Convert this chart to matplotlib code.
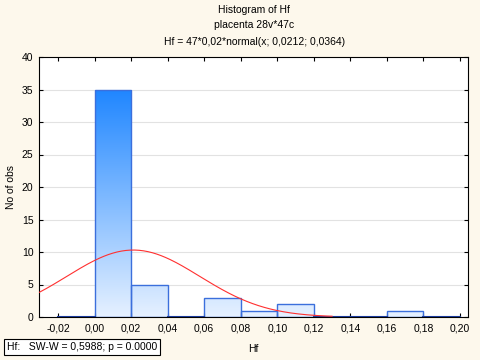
import numpy as np
import matplotlib
matplotlib.use('Agg')
import matplotlib.pyplot as plt
from matplotlib.colors import LinearSegmentedColormap

plt.rcParams['font.family'] = ['Liberation Sans', 'DejaVu Sans']
plt.rcParams['font.size'] = 7.5

# histogram bins (left edges) and counts
bin_left = [-0.02, 0.00, 0.02, 0.04, 0.06, 0.08, 0.10, 0.12, 0.14, 0.16, 0.18]
counts = [0, 35, 5, 0, 3, 1, 2, 0, 0, 1, 0]
bin_w = 0.02

# fitted normal from the title
n_obs = 47
mu = 0.0212
sd = 0.0364

xticks = [-0.02, 0.00, 0.02, 0.04, 0.06, 0.08, 0.10, 0.12, 0.14, 0.16, 0.18, 0.20]
yticks = [0, 5, 10, 15, 20, 25, 30, 35, 40]

fig = plt.figure(figsize=(4.8, 3.6), dpi=100, facecolor='#fdf8ec')
ax = fig.add_axes([39/480, 1-317/360, 429/480, 260/360])
ax.set_xlim(-0.0304, 0.2044)
ax.set_ylim(0, 40)

for y in yticks[1:-1]:
    ax.axhline(y, color='#e2e2e2', lw=0.8, zorder=0)

cmap = LinearSegmentedColormap.from_list('bar', ['#e6f1ff', '#1f86ff'])
grad = np.linspace(0, 1, 256).reshape(-1, 1)
top = max(counts)
for x0, c in zip(bin_left, counts):
    if c > 0:
        im = ax.imshow(grad, extent=[x0, x0 + bin_w, 0, top], origin='lower',
                       aspect='auto', cmap=cmap, zorder=1)
        rect = plt.Rectangle((x0, 0), bin_w, c, fill=False, ec='#3b6fdc', lw=1.0, zorder=2)
        ax.add_patch(rect)
        im.set_clip_path(rect)
    else:
        ax.plot([x0, x0 + bin_w], [0, 0], color='#1a3a9a', lw=1.5, zorder=3)
ax.set_ylim(0, 40)

xs = np.linspace(-0.0304, 0.13, 200)
ys = n_obs * bin_w * np.exp(-0.5 * ((xs - mu) / sd) ** 2) / (sd * np.sqrt(2 * np.pi))
ax.plot(xs, ys, color='#ff3030', lw=0.8, zorder=4)

ax.set_xticks(xticks)
ax.set_xticklabels([f'{v:.2f}'.replace('.', ',') for v in xticks])
ax.set_yticks(yticks)
ax.tick_params(direction='in', length=3, top=True, right=True, pad=5)
ax.tick_params(axis='y', pad=4)
for s in ax.spines.values():
    s.set_color('black')
    s.set_linewidth(0.8)

ax.set_xlabel('Hf', labelpad=7)
ax.set_ylabel('No of obs', labelpad=4)

fig.text(0.53, 1-10/360, 'Histogram of Hf', ha='center', va='center')
fig.text(0.53, 1-25/360, 'placenta 28v*47c', ha='center', va='center')
fig.text(0.53, 1-42/360, 'Hf = 47*0,02*normal(x; 0,0212; 0,0364)', ha='center', va='center')

fig.text(7/480, 1-347/360, 'Hf:   SW-W = 0,5988; p = 0.0000', ha='left', va='center',
         bbox=dict(boxstyle='square,pad=0.3', fc='white', ec='black', lw=0.8))

fig.savefig('out.png', dpi=100, facecolor=fig.get_facecolor())
